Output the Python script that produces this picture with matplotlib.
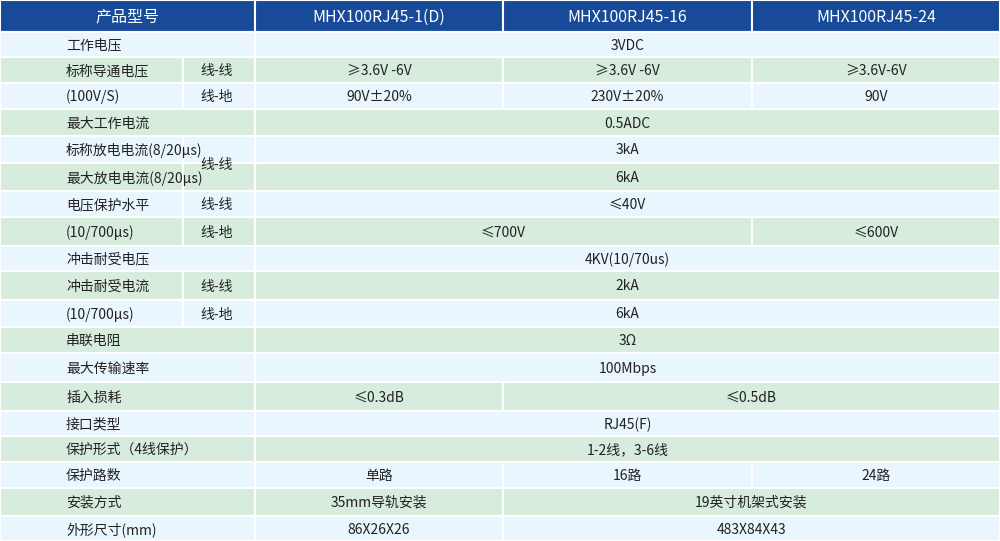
import matplotlib
matplotlib.use("Agg")
import matplotlib.pyplot as plt
from matplotlib.patches import Rectangle

plt.rcParams['font.family'] = ['Noto Sans CJK SC', 'DejaVu Sans']

header = ["产品型号", "MHX100RJ45-1(D)", "MHX100RJ45-16", "MHX100RJ45-24"]
row_labels = ["工作电压", "标称导通电压", "(100V/S)", "最大工作电流", "标称放电电流(8/20μs)",
              "最大放电电流(8/20μs)", "电压保护水平", "(10/700μs)", "冲击耐受电压", "冲击耐受电流",
              "(10/700μs)", "串联电阻", "最大传输速率", "插入损耗", "接口类型", "保护形式（4线保护）",
              "保护路数", "安装方式", "外形尺寸(mm)"]
# sub labels: (first_row, last_row, text)
sub_labels = [(1, 1, "线-线"), (2, 2, "线-地"), (4, 5, "线-线"), (6, 6, "线-线"), (7, 7, "线-地"),
              (9, 9, "线-线"), (10, 10, "线-地")]
# values per row: list of (first_col, last_col, text), cols 0..2
values = [
    [(0, 2, "3VDC")],
    [(0, 0, "≥3.6V -6V"), (1, 1, "≥3.6V -6V"), (2, 2, "≥3.6V-6V")],
    [(0, 0, "90V±20%"), (1, 1, "230V±20%"), (2, 2, "90V")],
    [(0, 2, "0.5ADC")],
    [(0, 2, "3kA")],
    [(0, 2, "6kA")],
    [(0, 2, "≤40V")],
    [(0, 1, "≤700V"), (2, 2, "≤600V")],
    [(0, 2, "4KV(10/70us)")],
    [(0, 2, "2kA")],
    [(0, 2, "6kA")],
    [(0, 2, "3Ω")],
    [(0, 2, "100Mbps")],
    [(0, 0, "≤0.3dB"), (1, 2, "≤0.5dB")],
    [(0, 2, "RJ45(F)")],
    [(0, 2, "1-2线，3-6线")],
    [(0, 0, "单路"), (1, 1, "16路"), (2, 2, "24路")],
    [(0, 0, "35mm导轨安装"), (1, 2, "19英寸机架式安装")],
    [(0, 0, "86X26X26"), (1, 2, "483X84X43")],
]

row_edges = [0, 32, 57, 83, 109, 136, 163, 191, 217, 246, 271, 300, 327, 353, 382, 411, 436, 462, 488, 516, 541]
col_edges = [0, 255, 503, 752, 1000]
sub_x = 183
light, green, navy = "#e9f6fd", "#d7ecdc", "#174a98"
txt = "#222222"

fig = plt.figure(figsize=(10, 5.41), dpi=100)
ax = fig.add_axes([0, 0, 1, 1])
ax.set_xlim(0, 1000)
ax.set_ylim(541, 0)
ax.axis("off")

def cell(x0, x1, y0, y1, color):
    ax.add_patch(Rectangle((x0, y0), x1 - x0, y1 - y0, facecolor=color, edgecolor="white", lw=1.5))

# header
for i, h in enumerate(header):
    x0, x1 = col_edges[i], col_edges[i + 1]
    cell(x0, x1, 0, row_edges[1], navy)
    ax.text((x0 + x1) / 2, row_edges[1] / 2 + 1, h, color="white", fontsize=11.5, ha="center", va="center")

sub_rows = set()
for a, b, _ in sub_labels:
    sub_rows.update(range(a, b + 1))

for r, lab in enumerate(row_labels):
    y0, y1 = row_edges[r + 1], row_edges[r + 2]
    col = light if r % 2 == 0 else green
    if r in sub_rows:
        cell(0, sub_x, y0, y1, col)
    else:
        cell(0, col_edges[1], y0, y1, col)
    ax.text(66, (y0 + y1) / 2 + 1, lab, color=txt, fontsize=10, ha="left", va="center")
    for a, b, t in values[r]:
        x0, x1 = col_edges[a + 1], col_edges[b + 2]
        cell(x0, x1, y0, y1, col)
        ax.text((x0 + x1) / 2, (y0 + y1) / 2 + 1, t, color=txt, fontsize=10, ha="center", va="center")

for a, b, t in sub_labels:
    y0, y1 = row_edges[a + 1], row_edges[b + 2]
    col = light if a % 2 == 0 else green
    if a != b:
        col = light
    cell(sub_x, col_edges[1], y0, y1, col)
    if a != b:
        cell(sub_x, col_edges[1], row_edges[b + 1], y1, green)
    ax.text(217, (y0 + y1) / 2 + 1, t, color=txt, fontsize=10, ha="center", va="center")

fig.savefig("out.png", dpi=100)
